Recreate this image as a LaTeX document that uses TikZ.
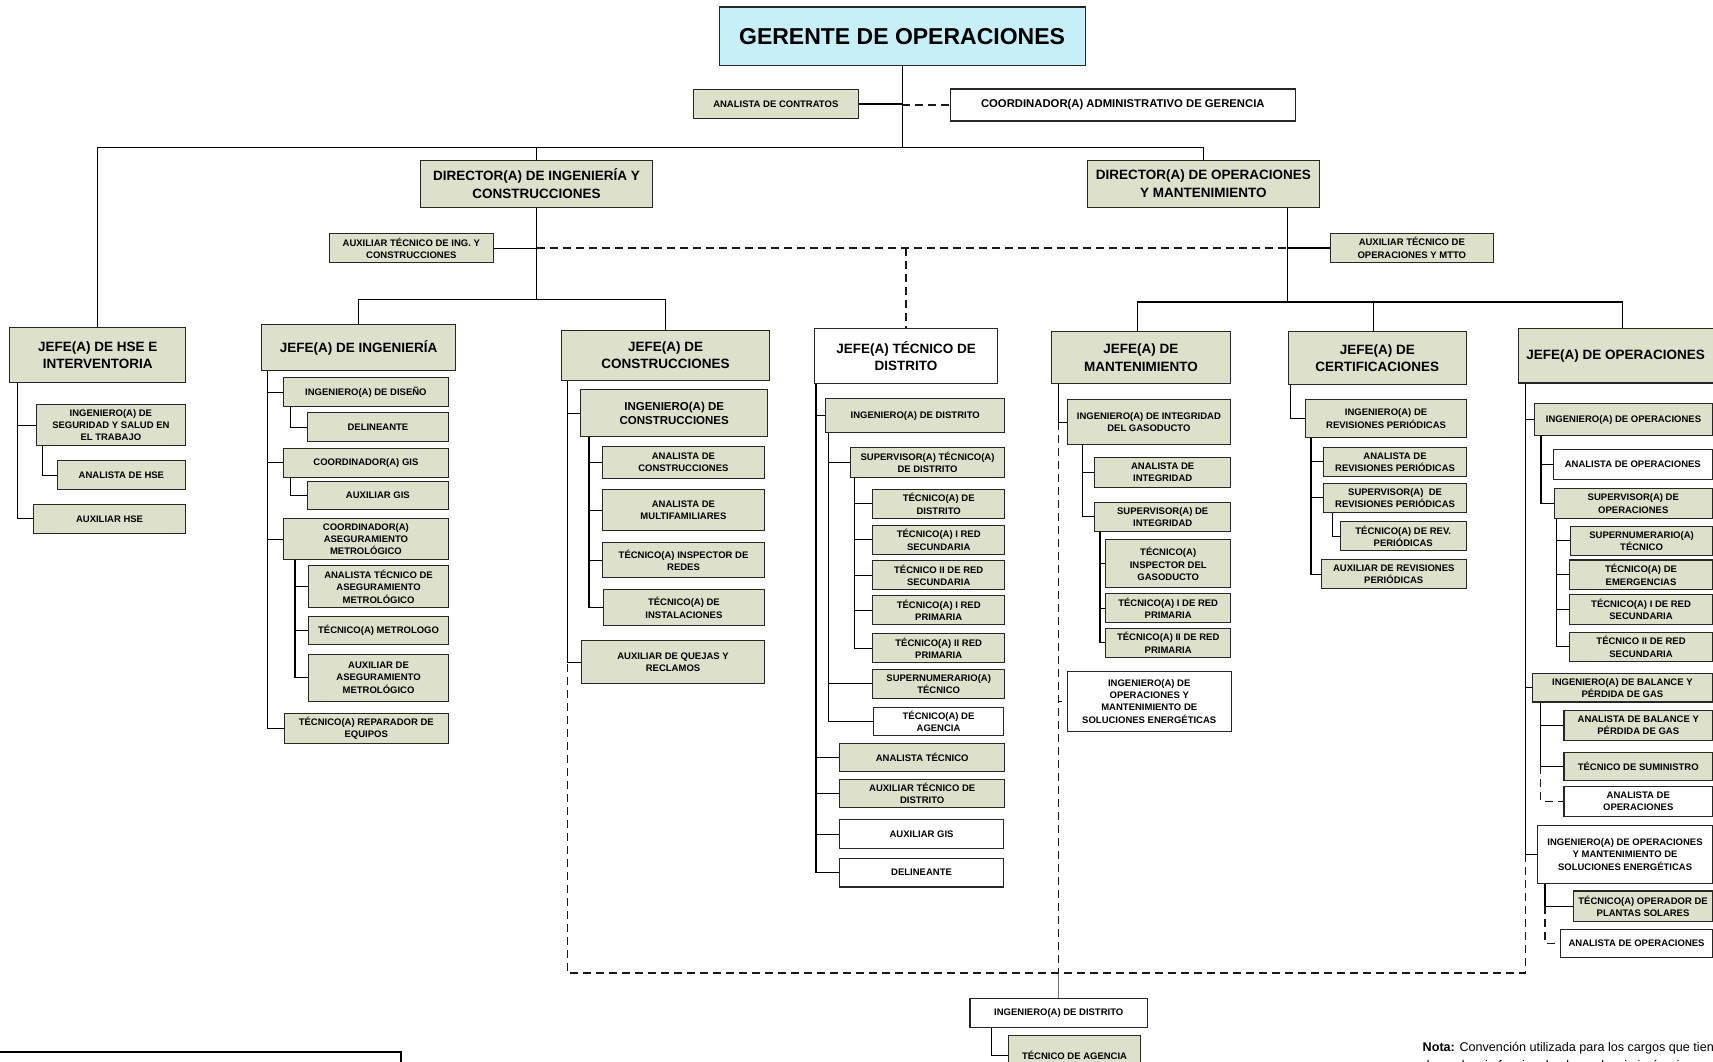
\documentclass[tikz,border=0pt]{standalone}
\usepackage{fontspec}
\setmainfont{Liberation Sans}
\definecolor{boxgreen}{RGB}{221,224,203}
\definecolor{boxcyan}{RGB}{198,239,247}
\begin{document}
\begin{tikzpicture}[x=1pt,y=-1pt,
 box/.style={draw=black!85, line width=1.1pt, anchor=north west, inner sep=1pt, align=center, font=\bfseries\fontsize{9.5}{12.3}\selectfont},
 gbox/.style={box, fill=boxgreen},
 wbox/.style={box, fill=white},
 big/.style={font=\bfseries\fontsize{13.5}{17.5}\selectfont},
 link/.style={draw=black, line width=1.1pt},
 dlink/.style={draw=black!90, line width=1.2pt, dash pattern=on 8pt off 5pt},
]
\useasboundingbox (0,0) rectangle (1713,1062);

% ---------- top ----------
\node[box, fill=boxcyan, font=\bfseries\fontsize{23}{27}\selectfont, minimum width=366, minimum height=58.5] (ger) at (718.5,6.5) {GERENTE DE OPERACIONES};
\node[gbox, minimum width=164.5, minimum height=29] (anc) at (693,89) {ANALISTA DE CONTRATOS};
\node[wbox, font=\bfseries\fontsize{11.3}{13}\selectfont, minimum width=345.5, minimum height=32] (cag) at (949.5,88.5) {COORDINADOR(A) ADMINISTRATIVO DE GERENCIA};
\node[gbox, big, minimum width=232, minimum height=47] (dic) at (420,159.5) {DIRECTOR(A) DE INGENIERÍA Y\\CONSTRUCCIONES};
\node[gbox, big, minimum width=231.5, minimum height=47] (dom) at (1087,159.5) {DIRECTOR(A) DE OPERACIONES\\Y MANTENIMIENTO};
\node[gbox, minimum width=163.5, minimum height=29.6] (aic) at (329,232.7) {AUXILIAR TÉCNICO DE ING. Y\\CONSTRUCCIONES};
\node[gbox, minimum width=163.5, minimum height=29.8] (aom) at (1329.5,232.5) {AUXILIAR TÉCNICO DE\\OPERACIONES Y MTTO};

% ---------- jefes ----------
\node[gbox, big, minimum width=175.7, minimum height=55] (jhse) at (9.3,327) {JEFE(A) DE HSE E\\INTERVENTORIA};
\node[gbox, big, minimum width=194, minimum height=46] (jing) at (261,324) {JEFE(A) DE INGENIERÍA};
\node[gbox, big, minimum width=208, minimum height=50.5] (jcon) at (561,329.5) {JEFE(A) DE\\CONSTRUCCIONES};
\node[wbox, big, minimum width=182.4, minimum height=54.4] (jtd) at (814.3,328.3) {JEFE(A) TÉCNICO DE\\DISTRITO};
\node[gbox, big, minimum width=179.3, minimum height=52.3] (jman) at (1050.7,331) {JEFE(A) DE\\MANTENIMIENTO};
\node[gbox, big, minimum width=178, minimum height=53] (jcer) at (1287.7,331) {JEFE(A) DE\\CERTIFICACIONES};
\node[gbox, big, minimum width=195, minimum height=54.7] (jop) at (1517.5,327.7) {JEFE(A) DE OPERACIONES};

% ---------- HSE ----------
\node[gbox, minimum width=149.3, minimum height=41] (h1) at (35.7,404) {INGENIERO(A) DE\\SEGURIDAD Y SALUD EN\\EL TRABAJO};
\node[gbox, minimum width=128.3, minimum height=29] (h2) at (56.7,460) {ANALISTA DE HSE};
\node[gbox, minimum width=152, minimum height=28.7] (h3) at (33,504) {AUXILIAR HSE};

% ---------- ingenieria ----------
\node[gbox, minimum width=164.7, minimum height=28.7] (i1) at (283,377.3) {INGENIERO(A) DE DISEÑO};
\node[gbox, minimum width=140.7, minimum height=28.7] (i2) at (307,412.3) {DELINEANTE};
\node[gbox, minimum width=164.7, minimum height=29] (i3) at (283,447.7) {COORDINADOR(A) GIS};
\node[gbox, minimum width=140.7, minimum height=28.3] (i4) at (307,481) {AUXILIAR GIS};
\node[gbox, minimum width=164.7, minimum height=41.6] (i5) at (283,517.7) {COORDINADOR(A)\\ASEGURAMIENTO\\METROLÓGICO};
\node[gbox, minimum width=139.4, minimum height=41.4] (i6) at (308.3,565.3) {ANALISTA TÉCNICO DE\\ASEGURAMIENTO\\METROLÓGICO};
\node[gbox, minimum width=139.4, minimum height=28.3] (i7) at (308.3,616) {TÉCNICO(A) METROLOGO};
\node[gbox, minimum width=139.4, minimum height=47] (i8) at (308.3,653.7) {AUXILIAR DE\\ASEGURAMIENTO\\METROLÓGICO};
\node[gbox, minimum width=164, minimum height=30] (i9) at (283.7,712.7) {TÉCNICO(A) REPARADOR DE\\EQUIPOS};

% ---------- construcciones ----------
\node[gbox, font=\bfseries\fontsize{11.5}{14.3}\selectfont, minimum width=187.3, minimum height=47] (c1) at (580,389) {INGENIERO(A) DE\\CONSTRUCCIONES};
\node[gbox, minimum width=161.7, minimum height=32] (c2) at (602,445.7) {ANALISTA DE\\CONSTRUCCIONES};
\node[gbox, minimum width=161.7, minimum height=41] (c3) at (602,489) {ANALISTA DE\\MULTIFAMILIARES};
\node[gbox, minimum width=161.4, minimum height=35.3] (c4) at (602.3,542) {TÉCNICO(A) INSPECTOR DE\\REDES};
\node[gbox, minimum width=160.7, minimum height=36] (c5) at (603,589.3) {TÉCNICO(A) DE\\INSTALACIONES};
\node[gbox, minimum width=182.4, minimum height=43.3] (c6) at (581.3,640) {AUXILIAR DE QUEJAS Y\\RECLAMOS};

% ---------- tecnico de distrito ----------
\node[gbox, minimum width=178.7, minimum height=34.6] (t1) at (825.3,397.7) {INGENIERO(A) DE DISTRITO};
\node[gbox, minimum width=154, minimum height=29.4] (t2) at (850,447.3) {SUPERVISOR(A) TÉCNICO(A)\\DE DISTRITO};
\node[gbox, minimum width=131.7, minimum height=28.7] (t3) at (872.3,489) {TÉCNICO(A) DE\\DISTRITO};
\node[gbox, minimum width=131.7, minimum height=29] (t4) at (872.3,524.7) {TÉCNICO(A) I RED\\SECUNDARIA};
\node[gbox, minimum width=131.7, minimum height=28.4] (t5) at (872.3,560.3) {TÉCNICO II DE RED\\SECUNDARIA};
\node[gbox, minimum width=131.7, minimum height=28.7] (t6) at (872.3,595.3) {TÉCNICO(A) I RED\\PRIMARIA};
\node[gbox, minimum width=131.7, minimum height=28.7] (t7) at (872.3,633.3) {TÉCNICO(A) II RED\\PRIMARIA};
\node[gbox, minimum width=131.7, minimum height=29] (t8) at (872.3,668.7) {SUPERNUMERARIO(A)\\TÉCNICO};
\node[wbox, minimum width=130.6, minimum height=28] (t9) at (872.7,706.5) {TÉCNICO(A) DE\\AGENCIA};
\node[gbox, minimum width=164.7, minimum height=28.2] (t10) at (839.3,742.8) {ANALISTA TÉCNICO};
\node[gbox, minimum width=164.7, minimum height=28.4] (t11) at (839.3,778.6) {AUXILIAR TÉCNICO DE\\DISTRITO};
\node[wbox, minimum width=163.4, minimum height=28.7] (t12) at (839.3,819.3) {AUXILIAR GIS};
\node[wbox, minimum width=163.4, minimum height=28.6] (t13) at (839.3,857.8) {DELINEANTE};

% ---------- mantenimiento ----------
\node[gbox, minimum width=163.3, minimum height=44.7] (m1) at (1066.7,399.3) {INGENIERO(A) DE INTEGRIDAD\\DEL GASODUCTO};
\node[gbox, minimum width=135.7, minimum height=29.7] (m2) at (1094.3,457) {ANALISTA DE\\INTEGRIDAD};
\node[gbox, minimum width=135.7, minimum height=29.3] (m3) at (1094.3,501.7) {SUPERVISOR(A) DE\\INTEGRIDAD};
\node[gbox, minimum width=124.7, minimum height=48] (m4) at (1105.3,539.3) {TÉCNICO(A)\\INSPECTOR DEL\\GASODUCTO};
\node[gbox, minimum width=124.7, minimum height=29.6] (m5) at (1105.3,592.7) {TÉCNICO(A) I DE RED\\PRIMARIA};
\node[gbox, minimum width=124.7, minimum height=29] (m6) at (1105.3,627.7) {TÉCNICO(A) II DE RED\\PRIMARIA};
\node[wbox, minimum width=164, minimum height=59.7] (m7) at (1066.7,671) {INGENIERO(A) DE\\OPERACIONES Y\\MANTENIMIENTO DE\\SOLUCIONES ENERGÉTICAS};

% ---------- certificaciones ----------
\node[gbox, minimum width=160.4, minimum height=38.3] (r1) at (1305.3,399) {INGENIERO(A) DE\\REVISIONES PERIÓDICAS};
\node[gbox, minimum width=142.4, minimum height=29.3] (r2) at (1323.3,446.7) {ANALISTA DE\\REVISIONES PERIÓDICAS};
\node[gbox, minimum width=142.4, minimum height=29.3] (r3) at (1323.3,482.7) {SUPERVISOR(A) \ DE\\REVISIONES PERIÓDICAS};
\node[gbox, minimum width=126, minimum height=29.3] (r4) at (1339.7,521) {TÉCNICO(A) DE REV.\\PERIÓDICAS};
\node[gbox, minimum width=145, minimum height=29] (r5) at (1320.7,559.3) {AUXILIAR DE REVISIONES\\PERIÓDICAS};

% ---------- operaciones ----------
\node[gbox, minimum width=178, minimum height=32] (o1) at (1534,403) {INGENIERO(A) DE OPERACIONES};
\node[wbox, minimum width=159.5, minimum height=29.5] (o2) at (1552.5,449) {ANALISTA DE OPERACIONES};
\node[gbox, minimum width=158.5, minimum height=29.5] (o3) at (1553.5,488.3) {SUPERVISOR(A) DE\\OPERACIONES};
\node[gbox, minimum width=142, minimum height=29.5] (o4) at (1570,525.5) {SUPERNUMERARIO(A)\\TÉCNICO};
\node[gbox, minimum width=143, minimum height=29.5] (o5) at (1569,559.4) {TÉCNICO(A) DE\\EMERGENCIAS};
\node[gbox, minimum width=143, minimum height=29.5] (o6) at (1569,594.3) {TÉCNICO(A) I DE RED\\SECUNDARIA};
\node[gbox, minimum width=143, minimum height=29.5] (o7) at (1569,631.5) {TÉCNICO II DE RED\\SECUNDARIA};
\node[gbox, minimum width=180.3, minimum height=28.4] (o8) at (1531.7,673) {INGENIERO(A) DE BALANCE Y\\PÉRDIDA DE GAS};
\node[gbox, minimum width=148.6, minimum height=29.6] (o9) at (1563.4,710) {ANALISTA DE BALANCE Y\\PÉRDIDA DE GAS};
\node[gbox, minimum width=148.6, minimum height=28.4] (o10) at (1563.4,751.6) {TÉCNICO DE SUMINISTRO};
\node[wbox, minimum width=148.6, minimum height=30.5] (o11) at (1563.4,785.5) {ANALISTA DE\\OPERACIONES};
\node[wbox, minimum width=175, minimum height=58] (o12) at (1537,824.8) {INGENIERO(A) DE OPERACIONES\\Y MANTENIMIENTO DE\\SOLUCIONES ENERGÉTICAS};
\node[gbox, minimum width=139, minimum height=30.6] (o13) at (1573,890.4) {TÉCNICO(A) OPERADOR DE\\PLANTAS SOLARES};
\node[wbox, minimum width=152, minimum height=28.4] (o14) at (1560,928.6) {ANALISTA DE OPERACIONES};

% ---------- bottom ----------
\node[wbox, minimum width=177.6, minimum height=29] (b1) at (969.4,998) {INGENIERO(A) DE DISTRITO};
\node[gbox, minimum width=132, minimum height=40] (b2) at (1008,1034.6) {TÉCNICO DE AGENCIA};

\node[anchor=base west, inner sep=0, font=\fontsize{12.6}{15}\selectfont] (nota1) at (1422.5,1051.7) {\textbf{Nota:} Convención utilizada para los cargos que tienen};
\node[anchor=base west, inner sep=0, font=\fontsize{12.6}{15}\selectfont] (nota2) at (1422.5,1069.5) {dependencia funcional y dependencia jerárquica};

\draw[line width=1.2pt] (0,1052) -- (401,1052) -- (401,1075);

% ---------- connectors ----------
\coordinate (yT) at (0,147.3);
\coordinate (yI) at (0,299.3);
\coordinate (yO) at (0,302);
\coordinate (yB) at (0,973);

\draw[link] (ger.south) -- (ger.south |- yT);
\draw[link] (jhse.north) |- (dom.north |- yT) -- (dom.north);
\draw[link] (dic.north) -- (dic.north |- yT);
\draw[link] (anc.east) -- (anc.east -| ger.south);
\draw[dlink] (ger.south |- cag.west) -- (cag.west);

\draw[link] (dic.south) -- (dic.south |- yI);
\draw[link] (jing.north) |- (jcon.north |- yI) -- (jcon.north);
\draw[link] (aic.east) -- (aic.east -| dic.south);
\coordinate (domS) at ([xshift=-32.5pt]dom.south east);
\draw[dlink] (aic.east -| dic.south) -- (aic.east -| domS);
\draw[dlink] (jtd.north |- aic.east) -- (jtd.north);
\draw[link] (domS) -- (domS |- yO);
\draw[link] (aom.west) -- (aom.west -| domS);
\coordinate (jmanT) at ([xshift=-3.6pt]jman.north);
\coordinate (jcerT) at ([xshift=-4pt]jcer.north);
\coordinate (jopT) at ([xshift=7pt]jop.north);
\draw[link] (jmanT) |- (jopT |- yO) -- (jopT);
\draw[link] (jcerT) -- (jcerT |- yO);

% HSE
\coordinate (sH) at ([xshift=8.4pt]jhse.south west);
\draw[link] (sH) |- (h1.west) (sH) |- (h3.west);
\coordinate (sH1) at ([xshift=6.6pt]h1.south west);
\draw[link] (sH1) |- (h2.west);

% ING
\coordinate (sI) at ([xshift=6.7pt]jing.south west);
\draw[link] (sI) |- (i1.west) (sI) |- (i3.west) (sI) |- (i5.west) (sI) |- (i9.west);
\coordinate (sI1) at ([xshift=7.3pt]i1.south west);
\draw[link] (sI1) |- (i2.west);
\coordinate (sI3) at ([xshift=7.3pt]i3.south west);
\draw[link] (sI3) |- (i4.west);
\coordinate (sI5) at ([xshift=12pt]i5.south west);
\draw[link] (sI5) |- (i6.west) (sI5) |- (i7.west) (sI5) |- (i8.west);

% CON
\coordinate (sC) at ([xshift=6.7pt]jcon.south west);
\draw[link] (sC) |- (c1.west) (sC) |- (c6.west);
\coordinate (sC1) at ([xshift=9pt]c1.south west);
\draw[link] (sC1) |- (c2.west) (sC1) |- (c3.west) (sC1) |- (c4.west) (sC1) |- (c5.west);

% TD
\coordinate (sT) at ([xshift=1.7pt]jtd.south west);
\draw[link] (sT) |- (t1.west) (sT) |- (t10.west) (sT) |- (t11.west) (sT) |- (t12.west) (sT) |- (t13.west);
\coordinate (sT1) at ([xshift=3.4pt]t1.south west);
\draw[link] (sT1) |- (t2.west) (sT1) |- (t8.west) (sT1) |- (t9.west);
\coordinate (sT2) at ([xshift=4.7pt]t2.south west);
\draw[link] (sT2) |- (t3.west) (sT2) |- (t4.west) (sT2) |- (t5.west) (sT2) |- (t6.west) (sT2) |- (t7.west);

% MAN
\coordinate (sM) at ([xshift=7.6pt]jman.south west);
\draw[link] (sM) |- (m1.west);
\draw[dlink] (m1.west -| sM) -- (sM |- yB);
\draw[link] (m7.west -| sM) -- ([xshift=-5pt]m7.west);
\draw[black!55, line width=0.6pt] (sM |- yB) -- (sM |- b1.north);
\coordinate (sM1) at ([xshift=15.6pt]m1.south west);
\draw[link] (sM1) |- (m2.west) (sM1) |- (m3.west);
\coordinate (sM3) at ([xshift=5.7pt]m3.south west);
\draw[link] (sM3) |- (m4.west) (sM3) |- (m5.west) (sM3) |- (m6.west);

% CER
\coordinate (sR) at ([xshift=3pt]jcer.south west);
\draw[link] (sR) |- (r1.west);
\coordinate (sR1) at ([xshift=5.7pt]r1.south west);
\draw[link] (sR1) |- (r2.west) (sR1) |- (r3.west) (sR1) |- (r5.west);
\coordinate (sR3) at ([xshift=9pt]r3.south west);
\draw[link] (sR3) |- (r4.west);

% OP
\coordinate (sO) at ([xshift=8.2pt]jop.south west);
\draw[link] (sO) |- (o1.west) (sO) |- (o8.west) (sO) |- (o12.west);
\draw[dlink] (o12.west -| sO) -- (sO |- yB) -- (sC |- yB) -- (c6.west -| sC);
\coordinate (sO1) at ([xshift=7pt]o1.south west);
\draw[link] (sO1) |- (o2.west) (sO1) |- (o3.west);
\coordinate (sO3) at ([xshift=3pt]o3.south west);
\draw[link] (sO3) |- (o4.west) (sO3) |- (o5.west) (sO3) |- (o6.west) (sO3) |- (o7.west);
\coordinate (sO8) at ([xshift=9pt]o8.south west);
\draw[link] (sO8) |- (o9.west) (sO8) |- (o10.west);
\draw[dlink] (o10.west -| sO8) |- (o11.west);
\coordinate (sO12) at ([xshift=8pt]o12.south west);
\draw[link] (sO12) |- (o13.west);
\draw[dlink] (o13.west -| sO12) |- (o14.west);

% bottom
\coordinate (sB) at ([xshift=21.9pt]b1.south west);
\draw[link] (sB) |- (b2.west);
\end{tikzpicture}
\end{document}
